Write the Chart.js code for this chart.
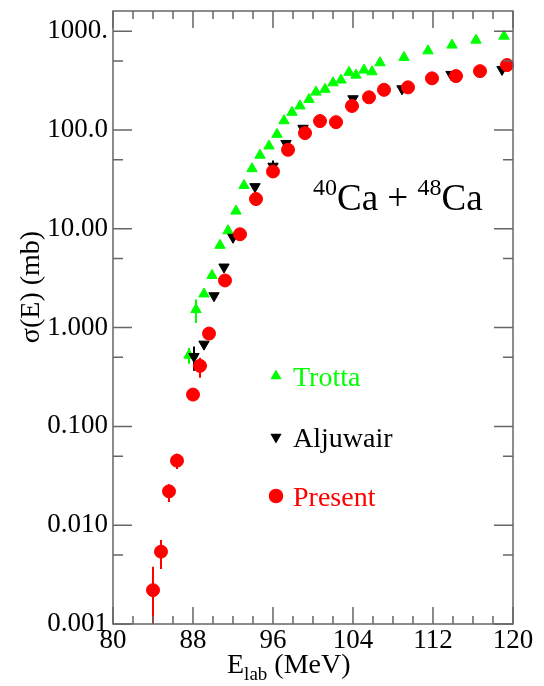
<!DOCTYPE html>
<html lang="en">
<head>
<meta charset="UTF-8">
<title>40Ca + 48Ca</title>
<script src="https://cdn.jsdelivr.net/npm/chart.js"></script>
<style>
  html, body { margin: 0; padding: 0; background: #fff; }
</style>
</head>
<body>
<canvas id="grafico" width="544" height="686"></canvas>
<script>
// E_lab (MeV) and sigma (mb)
const trottaE = [87.6, 88.3, 89.1, 89.9, 90.7, 91.5, 92.3, 93.1, 93.9, 94.7, 95.6, 96.4, 97.1, 97.9, 98.7,
                 99.6, 100.3, 101.2, 102.0, 102.8, 103.6, 104.3, 105.1, 105.9, 106.7, 109.1, 111.5, 113.9, 116.3, 119.1];
const trottaSig = [0.525, 1.52, 2.19, 3.37, 6.8, 9.55, 15.1, 27.4, 40.6, 55.5, 68.9, 90.3, 124, 151, 175,
                   204, 242, 258, 300, 320, 383, 359, 404, 388, 479, 542, 632, 723, 811, 890];
const trottaLo = [0.43, 1.11];
const trottaHi = [0.62, 1.92];

const aljE = [88.1, 89.1, 90.1, 91.1, 92.0, 94.2, 96.0, 97.3, 99.0, 104.0, 108.9, 113.8, 118.9];
const aljSig = [0.51, 0.68, 2.1, 4.1, 8.2, 26.7, 43, 73, 104, 207, 261, 365, 410];
const aljLo = [0.365, null, null, null, null, null, 38];
const aljHi = [0.645, null, null, null, null, null, 49];

const presentE = [84.0, 84.8, 85.6, 86.4, 88.0, 88.7, 89.6, 91.2, 92.7, 94.3, 96.0, 97.5, 99.2, 100.7,
                  102.3, 103.9, 105.6, 107.1, 109.5, 111.9, 114.3, 116.7, 119.4];
const presentSig = [0.0022, 0.0054, 0.022, 0.045, 0.21, 0.41, 0.87, 3.0, 8.8, 20, 38, 63, 93, 123,
                    120, 175, 214, 255, 270, 333, 351, 394, 454];
const presentLo = [0.0009, 0.0036, 0.0172, 0.037, null, 0.31];
const presentHi = [0.0038, 0.0071, 0.026, 0.053, null, 0.494];

const xMajor = [80, 88, 96, 104, 112, 120];
const yDecades = [0.001, 0.01, 0.1, 1, 10, 100, 1000];
const yTickLabels = ['0.001', '0.010', '0.100', '1.000', '10.00', '100.0', '1000.'];
const yMinor = [0.005, 0.05, 0.5, 5, 50, 500];

const serif = "'Liberation Serif', 'DejaVu Serif', serif";
Chart.defaults.font.family = serif;
Chart.defaults.color = '#000';

function pontos(xs, ys) {
    return xs.map((e, i) => ({ x: e, y: ys[i] }));
}

const series = [
    { label: 'Trotta', color: '#00ff00', style: 'triangle', rot: 0, r: 6, legR: 5, lo: trottaLo, hi: trottaHi },
    { label: 'Aljuwair', color: '#000000', style: 'triangle', rot: 180, r: 6, legR: 5, lo: aljLo, hi: aljHi },
    { label: 'Present', color: '#ff0000', style: 'circle', rot: 0, r: 6.5, legR: 6.5, lo: presentLo, hi: presentHi }
];
const valores = [pontos(trottaE, trottaSig), pontos(aljE, aljSig), pontos(presentE, presentSig)];

// error bars under the markers, frame + inward ticks + texts on top
const moldura = {
    id: 'moldura',
    beforeDatasetsDraw(chart) {
        const ctx = chart.ctx, a = chart.chartArea;
        const sx = chart.scales.x, sy = chart.scales.y;
        ctx.save();
        ctx.beginPath();
        ctx.rect(a.left, a.top, a.right - a.left, a.bottom - a.top);
        ctx.clip();
        ctx.lineWidth = 2;
        series.forEach((s, k) => {
            ctx.strokeStyle = s.color;
            valores[k].forEach((p, i) => {
                if (s.lo[i] == null) return;
                const px = sx.getPixelForValue(p.x);
                ctx.beginPath();
                ctx.moveTo(px, sy.getPixelForValue(s.lo[i]));
                ctx.lineTo(px, sy.getPixelForValue(s.hi[i]));
                ctx.stroke();
            });
        });
        ctx.restore();
    },
    afterDraw(chart) {
        const ctx = chart.ctx, a = chart.chartArea;
        const sx = chart.scales.x, sy = chart.scales.y;
        ctx.save();
        ctx.strokeStyle = '#666';
        ctx.lineWidth = 1.5;
        ctx.strokeRect(a.left, a.top, a.right - a.left, a.bottom - a.top);
        ctx.beginPath();
        sx.ticks.forEach(t => {
            const px = sx.getPixelForValue(t.value);
            const len = xMajor.includes(t.value) ? 17 : 8;
            ctx.moveTo(px, a.bottom); ctx.lineTo(px, a.bottom - len);
            ctx.moveTo(px, a.top); ctx.lineTo(px, a.top + len);
        });
        sy.ticks.forEach(t => {
            const py = sy.getPixelForValue(t.value);
            const len = yDecades.includes(t.value) ? 19 : 10;
            ctx.moveTo(a.left, py); ctx.lineTo(a.left + len, py);
            ctx.moveTo(a.right, py); ctx.lineTo(a.right - len, py);
        });
        ctx.stroke();

        // axis titles
        ctx.fillStyle = '#000';
        ctx.textBaseline = 'alphabetic';
        ctx.textAlign = 'left';
        let x = 227;
        ctx.font = '28px ' + serif;
        ctx.fillText('E', x, 673); x += ctx.measureText('E').width;
        ctx.font = '19px ' + serif;
        ctx.fillText('lab', x, 680); x += ctx.measureText('lab').width;
        ctx.font = '28px ' + serif;
        ctx.fillText(' (MeV)', x, 673);

        ctx.save();
        ctx.translate(39, 287);
        ctx.rotate(-Math.PI / 2);
        ctx.textAlign = 'center';
        ctx.fillText('\u03c3(E) (mb)', 0, 0);
        ctx.restore();

        // reaction label
        x = 313;
        const partes = [['40', 24, 195], ['Ca', 37, 210], [' + ', 37, 210], ['48', 24, 195], ['Ca', 37, 210]];
        partes.forEach(([txt, size, base]) => {
            ctx.font = size + 'px ' + serif;
            ctx.fillText(txt, x, base);
            x += ctx.measureText(txt).width;
        });

        // legend
        const linhas = [376, 437, 496];
        series.forEach((s, k) => {
            ctx.fillStyle = s.color;
            ctx.strokeStyle = s.color;
            Chart.helpers.drawPoint(ctx, { pointStyle: s.style, rotation: s.rot, radius: s.legR, borderWidth: 1 }, 276, linhas[k]);
            ctx.font = '28px ' + serif;
            ctx.fillText(s.label, 293, linhas[k] + 10);
        });
        ctx.restore();
    }
};

new Chart(document.getElementById('grafico'), {
    type: 'scatter',
    data: {
        datasets: series.map((s, k) => ({
            label: s.label,
            data: valores[k],
            showLine: false,
            pointStyle: s.style,
            rotation: s.rot,
            pointRadius: s.r,
            pointHoverRadius: s.r,
            backgroundColor: s.color,
            borderColor: s.color,
            borderWidth: 1,
            order: 3 - k,
            clip: false
        }))
    },
    options: {
        responsive: false,
        animation: false,
        devicePixelRatio: 1,
        layout: { padding: { left: 0, right: 31, top: 11, bottom: 0 } },
        plugins: { legend: { display: false }, tooltip: { enabled: false } },
        scales: {
            x: {
                type: 'linear',
                min: 80, max: 120,
                grid: { display: false, drawTicks: false },
                border: { display: false },
                ticks: {
                    stepSize: 2, autoSkip: false, maxRotation: 0, padding: 1,
                    font: { size: 27 },
                    callback: v => xMajor.includes(v) ? String(v) : ''
                },
                afterFit: s => { s.height = 62; s.paddingLeft = 0; s.paddingRight = 0; }
            },
            y: {
                type: 'logarithmic',
                min: 0.001, max: 1600,
                grid: { display: false, drawTicks: false },
                border: { display: false },
                afterBuildTicks: s => {
                    s.ticks = yDecades.concat(yMinor).sort((p, q) => p - q).map(v => ({ value: v }));
                },
                ticks: {
                    autoSkip: false, padding: 5,
                    font: { size: 27 },
                    callback: v => {
                        const i = yDecades.indexOf(v);
                        return i >= 0 ? yTickLabels[i] : '';
                    }
                },
                afterFit: s => { s.width = 113; s.paddingTop = 0; s.paddingBottom = 0; }
            }
        }
    },
    plugins: [moldura]
});
</script>
</body>
</html>
